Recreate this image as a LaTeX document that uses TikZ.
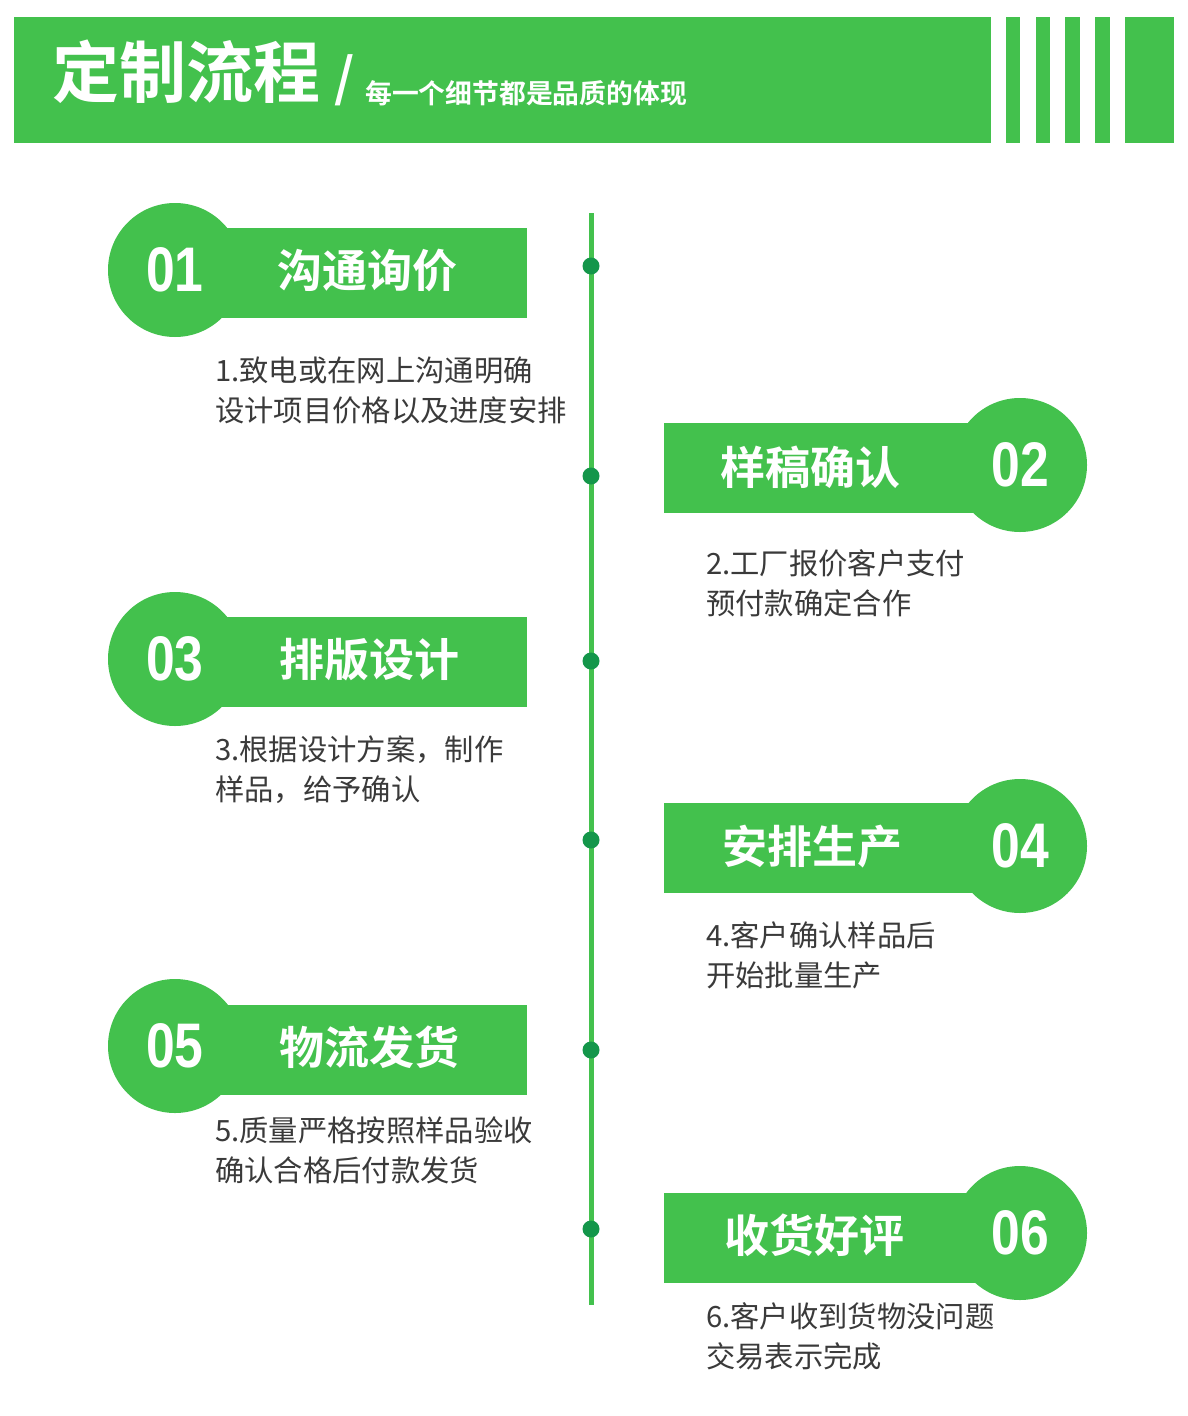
\documentclass[tikz,border=0pt]{standalone}
\usepackage{fontspec}
\usepackage{xcolor}
\usepackage{tikz}
\usetikzlibrary{positioning}
\newfontfamily\cjk{Noto Sans CJK SC}
\newfontfamily\cjkbold{Noto Sans CJK SC Bold}
\newfontfamily\numfont{Liberation Sans}
\definecolor{leaf}{HTML}{43C14D}
\definecolor{deepleaf}{HTML}{14964A}
\definecolor{ink}{HTML}{3A3A3A}
\newcommand{\stepno}[1]{\scalebox{0.82}[1]{#1}}

\begin{document}
\begin{tikzpicture}[
  x=1pt, y=-1pt,
  band/.style={fill=leaf, draw=none, minimum width=352pt, minimum height=90pt, inner sep=0pt},
  badge/.style={circle, fill=leaf, draw=none, minimum size=134pt, inner sep=0pt},
  num/.style={text=white, font=\numfont\bfseries\fontsize{63}{63}\selectfont, inner sep=0pt},
  stage/.style={text=white, font=\cjkbold\fontsize{45}{45}\selectfont, inner sep=0pt},
  note/.style={text=ink, font=\cjk\fontsize{29.3}{40}\selectfont, align=left, anchor=west, inner sep=0pt},
  dot/.style={circle, fill=deepleaf, draw=none, minimum size=17pt, inner sep=0pt},
  timeline/.style={draw=leaf, line width=5pt}
]
\useasboundingbox (0,0) rectangle (1187,1416);
\fill[white] (0,0) rectangle (1187,1416);

% header
\fill[leaf] (14,17) rectangle (991,143);
\fill[leaf] (1006,17) rectangle (1020,143);
\fill[leaf] (1036,17) rectangle (1050,143);
\fill[leaf] (1065,17) rectangle (1080,143);
\fill[leaf] (1095,17) rectangle (1110,143);
\fill[leaf] (1125,17) rectangle (1174,143);
\node[text=white, font=\cjkbold\fontsize{67}{67}\selectfont, anchor=west, inner sep=0pt] (title) at (52,72) {定制流程};
\node[text=white, font=\cjkbold\fontsize{52}{52}\selectfont, anchor=west, inner sep=0pt] (slash) at (334,80) {/};
\node[text=white, font=\cjkbold\fontsize{26.8}{26.8}\selectfont, anchor=west, inner sep=0pt] (sub) at (365,93) {每一个细节都是品质的体现};

% timeline
\coordinate (ltop) at (591,213);
\coordinate (lbot) at (591,1305);
\draw[timeline] (ltop) -- (lbot);
\node[dot] (d1) at (591,266) {};
\node[dot] (d2) at (591,476) {};
\node[dot] (d3) at (591,661) {};
\node[dot] (d4) at (591,840) {};
\node[dot] (d5) at (591,1050) {};
\node[dot] (d6) at (591,1229) {};

% step 01
\node[band] (r1) at (351,273) {};
\node[badge] (c1) at (175,270) {};
\node[num] (n1) at (c1) {\stepno{01}};
\node[stage] (s1) at (367,271) {沟通询价};
\node[note] (t1) at (215,390) {1.致电或在网上沟通明确\\设计项目价格以及进度安排};

% step 02
\node[band] (r2) at (840,468) {};
\node[badge] (c2) at (1020,465) {};
\node[num] (n2) at (c2) {\stepno{02}};
\node[stage] (s2) at (810,467) {样稿确认};
\node[note] (t2) at (706,583) {2.工厂报价客户支付\\预付款确定合作};

% step 03
\node[band] (r3) at (351,662) {};
\node[badge] (c3) at (175,659) {};
\node[num] (n3) at (c3) {\stepno{03}};
\node[stage] (s3) at (369,660) {排版设计};
\node[note] (t3) at (215,770) {3.根据设计方案，制作\\样品，给予确认};

% step 04
\node[band] (r4) at (840,848) {};
\node[badge] (c4) at (1020,846) {};
\node[num] (n4) at (c4) {\stepno{04}};
\node[stage] (s4) at (812,847) {安排生产};
\node[note] (t4) at (706,955) {4.客户确认样品后\\开始批量生产};

% step 05
\node[band] (r5) at (351,1050) {};
\node[badge] (c5) at (175,1046) {};
\node[num] (n5) at (c5) {\stepno{05}};
\node[stage] (s5) at (369,1047) {物流发货};
\node[note] (t5) at (215,1150) {5.质量严格按照样品验收\\确认合格后付款发货};

% step 06
\node[band] (r6) at (840,1238) {};
\node[badge] (c6) at (1020,1233) {};
\node[num] (n6) at (c6) {\stepno{06}};
\node[stage] (s6) at (814,1235) {收货好评};
\node[note] (t6) at (706,1336) {6.客户收到货物没问题\\交易表示完成};
\end{tikzpicture}
\end{document}
